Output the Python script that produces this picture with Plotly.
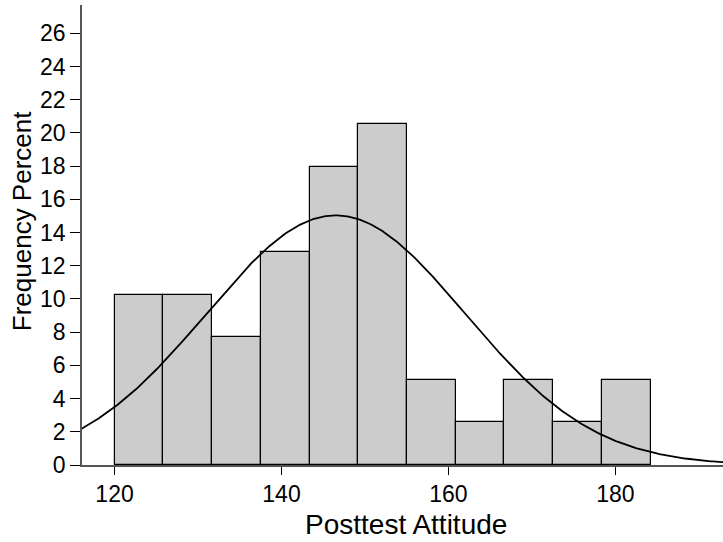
import numpy as np
import plotly.graph_objects as go

# Data
bin_start = 120.0
bin_width = 5.84
percents = [10.26, 10.26, 7.69, 12.82, 17.95, 20.51, 5.13, 2.56, 5.13, 2.56, 5.13]
curve_mean = 146.5
curve_sd = 15.5
x_ticks = [120, 140, 160, 180]
y_ticks = list(range(0, 27, 2))

centers = [bin_start + bin_width * (i + 0.5) for i in range(len(percents))]

xs = np.linspace(116.0, 193.0, 400)
ys = 100 * bin_width / (curve_sd * np.sqrt(2 * np.pi)) * np.exp(-0.5 * ((xs - curve_mean) / curve_sd) ** 2)

fig = go.Figure()
fig.add_trace(go.Bar(
    x=centers, y=percents, width=bin_width,
    marker=dict(color="#cccccc", line=dict(color="#000000", width=1.2)),
    showlegend=False, hoverinfo="skip"))
fig.add_trace(go.Scatter(
    x=xs, y=ys, mode="lines", line=dict(color="#000000", width=1.8),
    showlegend=False, hoverinfo="skip"))

fig.update_layout(
    width=723, height=542,
    margin=dict(l=82, r=0, t=5, b=77),
    paper_bgcolor="white", plot_bgcolor="white",
    font=dict(family="Liberation Sans, Arial, sans-serif", color="#000000"),
    bargap=0,
    xaxis=dict(
        range=[116.1, 192.9], tickvals=x_ticks, ticks="outside", ticklen=8,
        tickcolor="#000000", showline=True, linecolor="#555555", linewidth=1.5,
        showgrid=False, zeroline=False, tickfont=dict(size=23)),
    yaxis=dict(
        range=[0, 27.7], tickvals=y_ticks, ticks="outside", ticklen=10,
        tickcolor="#000000", showline=True, linecolor="#555555", linewidth=1.5,
        showgrid=False, zeroline=False, tickfont=dict(size=23)),
    annotations=[
        dict(text="Posttest Attitude", xref="paper", yref="paper", x=0.506, y=0,
             xanchor="center", yanchor="middle", yshift=-59, showarrow=False,
             font=dict(size=28)),
        dict(text="Frequency Percent", xref="paper", yref="paper", x=0, y=0.53,
             xanchor="center", yanchor="middle", xshift=-60, textangle=-90,
             showarrow=False, font=dict(size=26)),
    ],
)

fig.write_html("out.html")
